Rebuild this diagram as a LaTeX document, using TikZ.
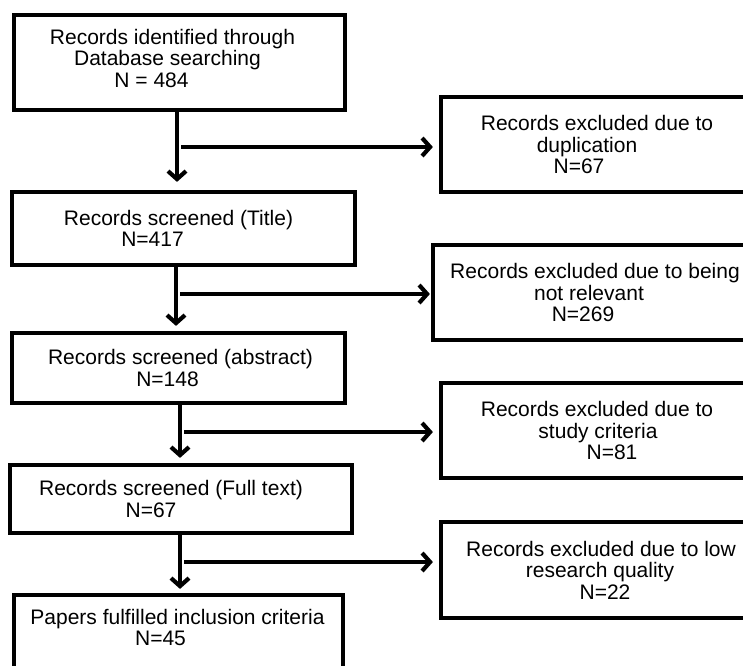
\documentclass[tikz,border=0pt]{standalone}
\usepackage{fontspec}
\setmainfont{Liberation Sans}
\usetikzlibrary{arrows.meta}
\newcommand\sx[2]{\hbox{\kern#1\relax#2\kern-#1\relax}}
\tikzset{
  box/.style={draw=black, line width=4.2pt, rectangle, inner sep=0pt, align=center,
    font=\fontsize{21pt}{21.5pt}\selectfont},
  arr/.style={draw=black, line width=4.2pt, -{Straight Barb[length=8pt,width=18pt]}},
}
\begin{document}
\begin{tikzpicture}[x=1pt,y=-1pt]
\useasboundingbox (0,0) rectangle (743,665);
\fill[white] (0,0) rectangle (743,665);
\clip (0,0) rectangle (743,665);
% left column
\node[box, minimum width=331pt, minimum height=95pt] (b1) at (179.5,62.5)
  {\sx{-7pt}{Records identified through}\\\sx{-12pt}{Database searching}\\\sx{-28pt}{N = 484}\\[-13pt]\mbox{}};
\node[box, minimum width=343pt, minimum height=73pt] (b3) at (183.5,228.5)
  {\sx{-5pt}{Records screened (Title)}\\\sx{-31pt}{N=417}};
\node[box, minimum width=333pt, minimum height=70pt] (b5) at (178.5,368)
  {\sx{2pt}{Records screened (abstract)}\\\sx{-11pt}{N=148}};
\node[box, minimum width=342pt, minimum height=68pt] (b7) at (181,499)
  {\sx{-10pt}{Records screened (Full text)}\\\sx{-30pt}{N=67}};
\node[box, minimum width=329pt, minimum height=86pt] (b8) at (178.5,638)
  {\sx{-1pt}{Papers fulfilled inclusion criteria}\\\sx{-18pt}{N=45}\\\mbox{}};
% right column
\node[box, minimum width=312pt, minimum height=95pt] (b2) at (597,144.5)
  {Records excluded due to\\\sx{-10pt}{duplication}\\\sx{-18pt}{N=67}};
\node[box, minimum width=324pt, minimum height=95pt] (b4) at (595,292.5)
  {Records excluded due to being\\\sx{-6pt}{not relevant}\\\sx{-12pt}{N=269}};
\node[box, minimum width=312pt, minimum height=95pt] (b6) at (597,430.5)
  {Records excluded due to\\\sx{1pt}{study criteria}\\\sx{15pt}{N=81}};
\node[box, minimum width=320pt, minimum height=96pt] (b9) at (601,570)
  {Records excluded due to low\\\sx{-1pt}{research quality}\\\sx{4pt}{N=22}};
% junctions
\coordinate (j1) at (177,147);
\coordinate (j2) at (176,294);
\coordinate (j3) at (180,432);
\coordinate (j4) at (180,562);
% connectors
\draw[arr, shorten >=8pt] (b1.south -| j1) -- (b3.north -| j1);
\draw[arr, shorten >=6pt] ([xshift=4pt]j1) -- (b2.west |- j1);
\draw[arr, shorten >=5pt] (b3.south -| j2) -- (b5.north -| j2);
\draw[arr, shorten >=1pt] ([xshift=4pt]j2) -- (b4.west |- j2);
\draw[arr, shorten >=5pt] (b5.south -| j3) -- (b7.north -| j3);
\draw[arr, shorten >=6pt] ([xshift=4pt]j3) -- (b6.west |- j3);
\draw[arr, shorten >=4pt] (b7.south -| j4) -- (b8.north -| j4);
\draw[arr, shorten >=6pt] ([xshift=4pt]j4) -- (b9.west |- j4);
\end{tikzpicture}
\end{document}
